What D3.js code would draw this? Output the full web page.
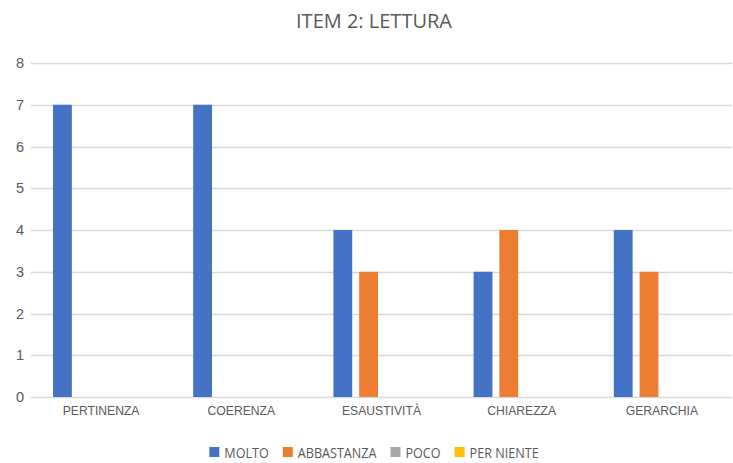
<!DOCTYPE html>
<html lang="it">
<head>
<meta charset="utf-8">
<title>ITEM 2: LETTURA</title>
<script src="https://d3js.org/d3.v7.min.js"></script>
<style>
  body { margin: 0; background: #fff; }
  svg { display: block; font-family: "Open Sans", "Noto Sans", sans-serif; }
  .tick text { fill: #595959; }
</style>
</head>
<body>
<div id="chart"></div>
<script>
// chart data
var categories = ["PERTINENZA", "COERENZA", "ESAUSTIVITÀ", "CHIAREZZA", "GERARCHIA"];
var seriesNames = ["MOLTO", "ABBASTANZA", "POCO", "PER NIENTE"];
var molto      = [7, 7, 4, 3, 4];
var abbastanza = [0, 0, 3, 4, 3];
var poco       = [0, 0, 0, 0, 0];
var perNiente  = [0, 0, 0, 0, 0];
var yTicks = [0, 1, 2, 3, 4, 5, 6, 7, 8];
var colors = ["#4472C4", "#ED7D31", "#A5A5A5", "#FFC000"];

var values = [molto, abbastanza, poco, perNiente];

var width = 733, height = 463;
var margin = {top: 63, right: 1, bottom: 66, left: 31};

var svg = d3.select("#chart").append("svg")
    .attr("width", width)
    .attr("height", height);

var x0 = d3.scaleBand()
    .domain(categories)
    .range([margin.left, width - margin.right])
    .paddingInner(0)
    .paddingOuter(0);

// inner scale: 4 bars with small gaps, ~22px outer padding in each group
var x1 = d3.scaleBand()
    .domain(seriesNames)
    .range([22, x0.bandwidth() - 22])
    .paddingInner(0.27)
    .paddingOuter(0);

var y = d3.scaleLinear()
    .domain([0, 8])
    .range([height - margin.bottom, margin.top]);

// gridlines
svg.append("g")
    .selectAll("line")
    .data(yTicks)
    .join("line")
    .attr("x1", margin.left)
    .attr("x2", width - margin.right)
    .attr("y1", function(d) { return Math.round(y(d)) + 0.5; })
    .attr("y2", function(d) { return Math.round(y(d)) + 0.5; })
    .attr("stroke", "#d9d9d9")
    .attr("stroke-width", 1.3);

// y axis labels
var yAxis = d3.axisLeft(y).tickValues(yTicks).tickSize(0).tickPadding(6);
svg.append("g")
    .attr("transform", "translate(" + (margin.left - 1) + ",0)")
    .call(yAxis)
    .call(function(g) { g.select(".domain").remove(); })
    .selectAll("text")
    .attr("font-size", 14.5);

// bars
var groups = svg.append("g")
    .selectAll("g")
    .data(categories)
    .join("g")
    .attr("transform", function(d) { return "translate(" + x0(d) + ",0)"; });

groups.selectAll("rect")
    .data(function(d, i) {
        return seriesNames.map(function(s, j) {
            return {series: s, value: values[j][i], color: colors[j]};
        });
    })
    .join("rect")
    .attr("x", function(d) { return x1(d.series); })
    .attr("width", x1.bandwidth())
    .attr("y", function(d) { return y(d.value); })
    .attr("height", function(d) { return y(0) - y(d.value); })
    .attr("fill", function(d) { return d.color; });

// x axis labels
var xAxis = d3.axisBottom(x0).tickSize(0).tickPadding(8);
svg.append("g")
    .attr("transform", "translate(0," + y(0) + ")")
    .call(xAxis)
    .call(function(g) { g.select(".domain").remove(); })
    .selectAll("text")
    .attr("font-size", 13.5)
    .attr("textLength", function() { return this.getComputedTextLength() * 0.9; })
    .attr("lengthAdjust", "spacingAndGlyphs");

// title
svg.append("text")
    .attr("x", 374)
    .attr("y", 28)
    .attr("text-anchor", "middle")
    .attr("font-size", 20)
    .attr("fill", "#595959")
    .text("ITEM 2: LETTURA");

// legend, laid out from text widths and centred
var legend = svg.append("g")
    .attr("transform", "translate(0,447)");

var items = legend.selectAll("g")
    .data(seriesNames)
    .join("g");

items.append("rect")
    .attr("width", 10)
    .attr("height", 10)
    .attr("fill", function(d, i) { return colors[i]; });

var widths = [];
items.append("text")
    .attr("x", 15)
    .attr("y", 10.5)
    .attr("font-size", 14)
    .attr("fill", "#595959")
    .text(function(d) { return d; })
    .each(function() { widths.push(this.getComputedTextLength() * 0.9); })
    .attr("textLength", function(d, i) { return widths[i]; })
    .attr("lengthAdjust", "spacingAndGlyphs");

var offs = [], cur = 0;
widths.forEach(function(w) {
    offs.push(cur);
    cur += 15 + w + 14;
});
var total = cur - 14;
var start = 374 - total / 2;
items.attr("transform", function(d, i) { return "translate(" + (start + offs[i]) + ",0)"; });
</script>
</body>
</html>
